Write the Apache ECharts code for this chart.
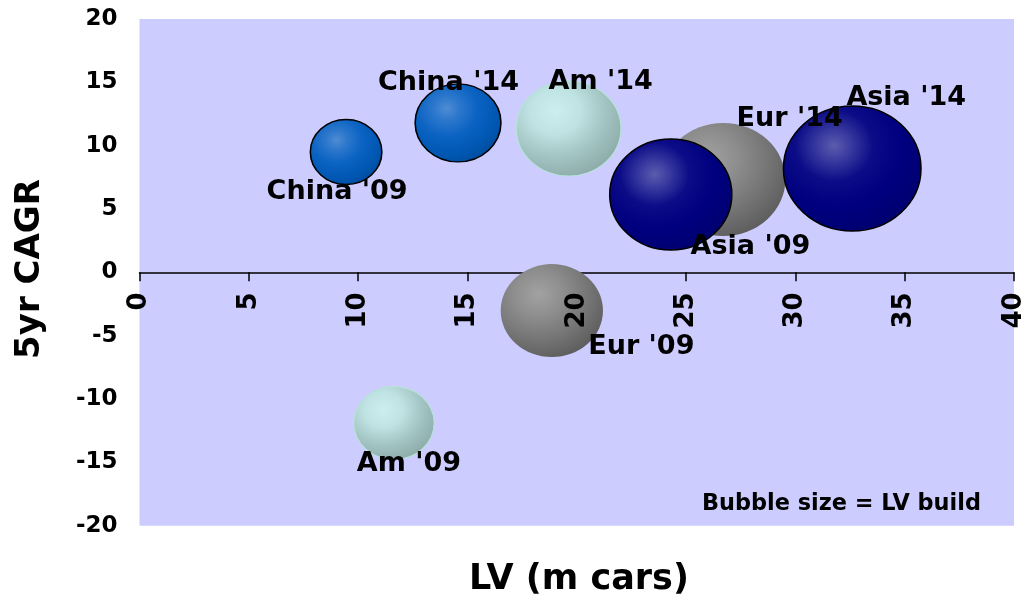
<!DOCTYPE html>
<html>
<head>
<meta charset="utf-8">
<script src="https://cdn.jsdelivr.net/npm/echarts@6/dist/echarts.min.js"></script>
<style>
html,body{margin:0;padding:0;background:#fff;}
#chart{width:1027px;height:598px;}
</style>
</head>
<body>
<div id="chart"></div>
<script>
// ---- data ----
const xTicks = [0, 5, 10, 15, 20, 25, 30, 35, 40];
const yTicks = [-20, -15, -10, -5, 0, 5, 10, 15, 20];

const chinaNames = ["China '09", "China '14"];
const chinaLV    = [9.45, 14.57];
const chinaCAGR  = [9.5, 11.8];
const chinaBuild = [8.65, 12.46];

const amNames = ["Am '09", "Am '14"];
const amLV    = [11.64, 19.63];
const amCAGR  = [-11.9, 11.36];
const amBuild = [10.91, 18.48];

const eurNames = ["Eur '09", "Eur '14"];
const eurLV    = [18.86, 26.7];
const eurCAGR  = [-3.02, 7.33];
const eurBuild = [17.71, 26.14];

const asiaNames = ["Asia '09", "Asia '14"];
const asiaLV    = [24.3, 32.6];
const asiaCAGR  = [6.15, 8.2];
const asiaBuild = [25.23, 32.0];

// ---- styling (not data) ----
const FONT = 'DejaVu Sans';
const GRID = {left:139.5, right:11, top:19, bottom:72.3};
const PLOT_H = 598 - GRID.top - GRID.bottom;
const labelOffsets = {
  China: [[-9, 40], [-9.5, -40]],
  Am:    [[15, 40.5], [32, -46.5]],
  Eur:   [[89.5, 36.5], [66.5, -61]],
  Asia:  [[79.7, 53], [54, -70]]
};
function grad(stops){
  return {type:'radial', x:0.37, y:0.32, r:0.8, global:false,
    colorStops: stops.map(s=>({offset:s[0], color:s[1]}))};
}
const styles = {
  China: {opacity:1, color: grad([[0,'#4e8cd2'],[0.2,'#2a76cc'],[0.45,'#0a62c2'],[0.75,'#0056b0'],[1,'#00468f']]), borderColor:'#000', borderWidth:1.5},
  Am:    {opacity:1, color: grad([[0,'#cdeeee'],[0.3,'#bfe2e2'],[0.6,'#a2c4c3'],[1,'#86a2a0']]), borderColor:'#b4e6d4', borderWidth:1},
  Eur:   {opacity:1, color: grad([[0,'#a2a2a2'],[0.3,'#8e8e8e'],[0.65,'#727272'],[1,'#555555']]), borderColor:'rgba(0,0,0,0)', borderWidth:0},
  Asia:  {opacity:1, color: grad([[0,'#5c5cae'],[0.15,'#3a3aa0'],[0.35,'#0c0c88'],[0.6,'#000080'],[1,'#00006a']]), borderColor:'#000', borderWidth:1.5}
};

function sizeOf(v){ const h = 22.1 * Math.sqrt(v[2]); return [h * 1.1, h]; }

function makeSeries(key, names, xs, ys, bs){
  return {
    type:'scatter',
    name:key,
    xAxisIndex:0, yAxisIndex:0,
    data: names.map((n,i)=>({
      name:n,
      value:[xs[i], ys[i], bs[i]],
      label:{offset: labelOffsets[key][i]}
    })),
    symbol:'circle',
    symbolSize: sizeOf,
    itemStyle: styles[key],
    label:{
      show:true, position:'inside', formatter:'{b}',
      fontFamily:FONT, fontWeight:'bold', fontSize:27, color:'#000000',
      textBorderWidth:0, textBorderColor:'transparent'
    },
    emphasis:{disabled:true},
    silent:true,
    animation:false
  };
}

const xBase = {
  type:'value', min:xTicks[0], max:xTicks[xTicks.length-1], interval:xTicks[1]-xTicks[0],
  position:'bottom',
  offset: -(PLOT_H * (0 - yTicks[0]) / (yTicks[yTicks.length-1] - yTicks[0])),
  splitLine:{show:false}
};

const chart = echarts.init(document.getElementById('chart'), null, {renderer:'canvas'});
chart.setOption({
  animation:false,
  backgroundColor:'#ffffff',
  grid:Object.assign({show:true, backgroundColor:'#ccccff', borderWidth:0}, GRID),
  xAxis:[
    Object.assign({}, xBase, {
      z:0,
      axisLine:{show:true, onZero:false, lineStyle:{color:'#000', width:1.5}},
      axisTick:{show:true, inside:false, length:9, lineStyle:{color:'#000', width:1.5}},
      axisLabel:{show:false}
    }),
    Object.assign({}, xBase, {
      z:10,
      axisLine:{show:false, onZero:false},
      axisTick:{show:false},
      axisLabel:{show:true, rotate:90, margin:20, fontFamily:FONT, fontWeight:'bold', fontSize:26, color:'#000'}
    })
  ],
  yAxis:{
    type:'value', min:yTicks[0], max:yTicks[yTicks.length-1], interval:yTicks[1]-yTicks[0],
    axisLine:{show:false}, axisTick:{show:false},
    axisLabel:{margin:22, fontFamily:FONT, fontWeight:'bold', fontSize:23, color:'#000'},
    splitLine:{show:false}
  },
  graphic:[
    {type:'text', x:579, y:580, silent:true,
      style:{text:'LV (m cars)', fontFamily:FONT, fontWeight:'bold', fontSize:35, fill:'#000', align:'center', verticalAlign:'middle'}},
    {type:'text', x:30, y:269, rotation:Math.PI/2, silent:true,
      style:{text:'5yr CAGR', fontFamily:FONT, fontWeight:'bold', fontSize:34, fill:'#000', align:'center', verticalAlign:'middle'}},
    {type:'text', x:702, y:504, silent:true,
      style:{text:'Bubble size = LV build', fontFamily:FONT, fontWeight:'bold', fontSize:22.4, fill:'#000', align:'left', verticalAlign:'middle'}}
  ],
  series:[
    makeSeries('China', chinaNames, chinaLV, chinaCAGR, chinaBuild),
    makeSeries('Am', amNames, amLV, amCAGR, amBuild),
    makeSeries('Eur', eurNames, eurLV, eurCAGR, eurBuild),
    makeSeries('Asia', asiaNames, asiaLV, asiaCAGR, asiaBuild)
  ]
});
</script>
</body>
</html>
